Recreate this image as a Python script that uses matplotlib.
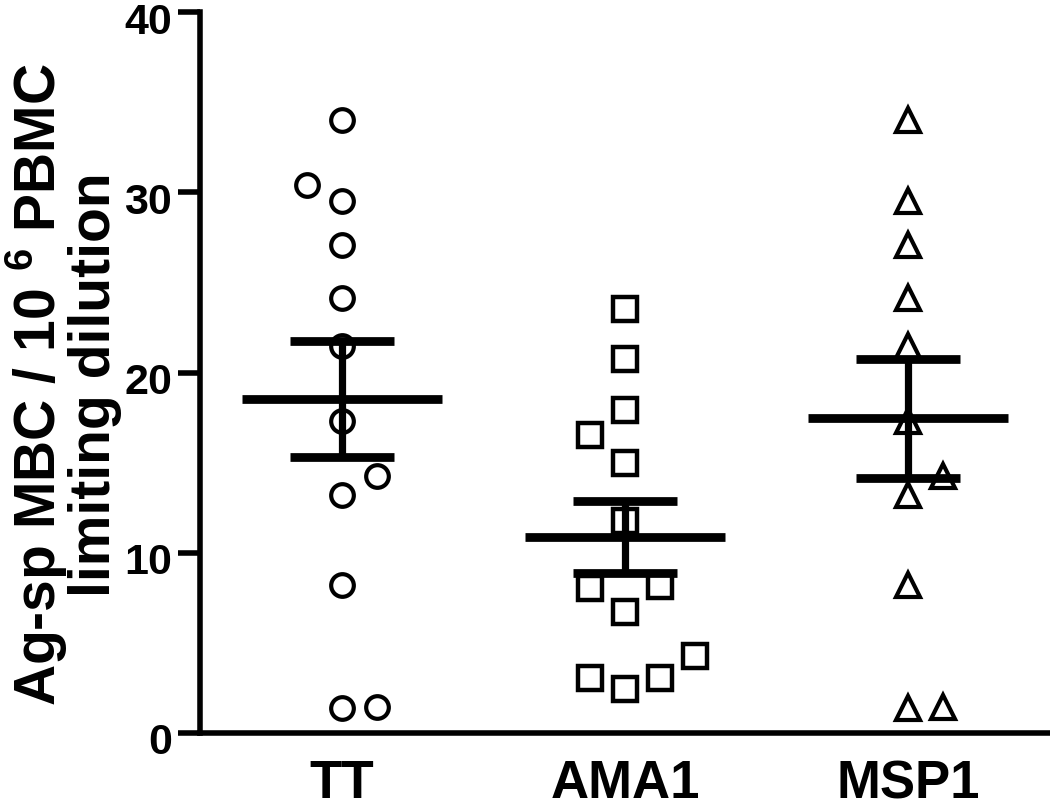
import numpy as np
import matplotlib
matplotlib.use("Agg")
import matplotlib.pyplot as plt
import matplotlib.transforms as mtransforms

# groups and values
groups = ['TT', 'AMA1', 'MSP1']
tt = [34.0, 30.4, 29.5, 27.05, 24.15, 21.46, 17.3, 14.24, 13.2, 8.2, 1.37, 1.46]
ama1 = [23.5, 20.76, 17.94, 16.56, 14.98, 11.74, 8.04, 8.13, 6.69, 4.28, 3.04, 2.43, 3.04]
msp1 = [34.0, 29.5, 27.05, 24.15, 21.46, 17.3, 14.24, 13.2, 8.2, 1.37, 1.46]

# horizontal jitter slot of every point (scatter-dot style)
tt_slot = [0, -1, 0, 0, 0, 0, 0, 1, 0, 0, 0, 1]
ama1_slot = [0, 0, 0, -1, 0, 0, -1, 1, 0, 2, -1, 0, 1]
msp1_slot = [0, 0, 0, 0, 0, 0, 1, 0, 0, 0, 1]

yticks = [0, 10, 20, 30, 40]

plt.rcParams['font.family'] = ['Liberation Sans', 'DejaVu Sans']
plt.rcParams['font.weight'] = 'bold'
plt.rcParams['mathtext.fontset'] = 'custom'
plt.rcParams['mathtext.rm'] = 'Liberation Sans:bold'
plt.rcParams['mathtext.bf'] = 'Liberation Sans:bold'


def plot_scatter():
    fig = plt.figure(figsize=(10.5, 8.11), dpi=100)
    ax = fig.add_axes([200 / 1050, 1 - 733 / 811, 850 / 1050, (733 - 12) / 811])

    data = [tt, ama1, msp1]
    slots = [tt_slot, ama1_slot, msp1_slot]
    markers = [('o', 16.3, 3.0), ('s', 17.0, 3.2), ('^', 17.0, 3.0)]
    step = 0.123

    for i, (vals, slot, (mk, ms, mew)) in enumerate(zip(data, slots, markers)):
        vals = np.array(vals)
        xs = i + np.array(slot) * step
        ax.plot(xs, vals, linestyle='none', marker=mk, markersize=ms,
                markerfacecolor='white', markeredgecolor='black',
                markeredgewidth=mew, zorder=2, clip_on=False)

        mean = vals.mean()
        sem = vals.std(ddof=1) / np.sqrt(len(vals))
        ax.hlines(mean, i - 0.353, i + 0.353, color='black', lw=6.3,
                  capstyle='butt', zorder=3)
        ax.hlines([mean - sem, mean + sem], i - 0.183, i + 0.183,
                  color='black', lw=6.3, capstyle='butt', zorder=3)
        ax.vlines(i, mean - sem, mean + sem, color='black', lw=5.2, zorder=3)

    ax.set_xlim(-0.5, 2.5)
    ax.set_ylim(0, 40)
    ax.set_yticks(yticks)
    ax.set_xticks(range(len(groups)))
    ax.set_xticklabels(groups, fontsize=38, fontweight='bold')
    ax.tick_params(axis='y', labelsize=31, length=16, width=4, pad=4)
    ax.tick_params(axis='x', length=0, pad=19)

    # nudge y tick labels down a little, as in the original
    shift = mtransforms.ScaledTranslation(0, -6 / 100, fig.dpi_scale_trans)
    for lab in ax.get_yticklabels():
        lab.set_transform(lab.get_transform() + shift)

    for s in ['top', 'right']:
        ax.spines[s].set_visible(False)
    for s in ['left', 'bottom']:
        ax.spines[s].set_linewidth(4)

    fig.text(63 / 1050, 1 - 385 / 811,
             'Ag-sp MBC / 10$\\;^{6}$ PBMC\nlimiting dilution',
             rotation=90, ha='center', va='center', multialignment='center',
             fontsize=41, fontweight='bold', linespacing=0.95)

    fig.savefig('out.png', dpi=100)


def main():
    plot_scatter()


if __name__ == "__main__":
    main()
